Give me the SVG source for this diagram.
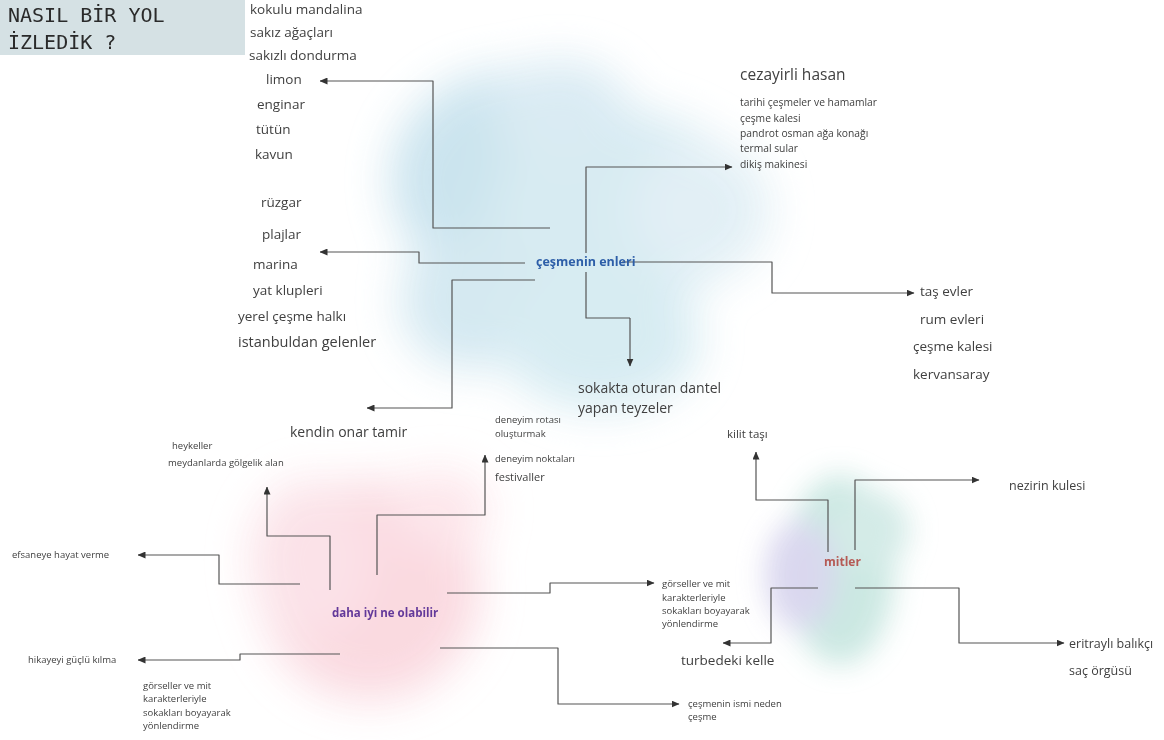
<svg xmlns="http://www.w3.org/2000/svg" width="1164" height="740" viewBox="0 0 1164 740">
<defs>
<filter id="blur" x="-50%" y="-50%" width="200%" height="200%"><feGaussianBlur stdDeviation="22"/></filter>
<filter id="blur2" x="-50%" y="-50%" width="200%" height="200%"><feGaussianBlur stdDeviation="14"/></filter>
<marker id="arr" markerUnits="userSpaceOnUse" markerWidth="8" markerHeight="7" refX="7.5" refY="3.5" orient="auto"><path d="M0,0 L8,3.5 L0,7 z" fill="#333"/></marker>
<style>
.t{font-family:"Open Sans","Noto Sans","Liberation Sans",sans-serif;fill:#404040}
.s{font-size:13.5px}
.n{font-size:12.5px}
.m{font-size:14px}
.x{font-size:9.5px}
.hub{font-family:"Open Sans","Noto Sans","Liberation Sans",sans-serif;font-weight:bold}
.c{fill:none;stroke:#555;stroke-width:1.2;stroke-linejoin:round}
.a{marker-end:url(#arr)}
</style>
</defs>
<rect width="1164" height="740" fill="#fff"/>
<g id="background" opacity="0.95">
<g filter="url(#blur)">
<ellipse cx="510" cy="180" rx="120" ry="110" fill="#c9e3ee"/>
<ellipse cx="620" cy="210" rx="130" ry="100" fill="#d5eaf2"/>
<ellipse cx="700" cy="210" rx="70" ry="70" fill="#e1eff5"/>
<ellipse cx="470" cy="300" rx="70" ry="70" fill="#d3e8f1"/>
<ellipse cx="600" cy="340" rx="100" ry="70" fill="#d5ebf2"/>
<ellipse cx="560" cy="110" rx="70" ry="50" fill="#d8eaf3"/>
</g>
<g filter="url(#blur)">
<ellipse cx="370" cy="590" rx="110" ry="110" fill="#fad8df"/>
<ellipse cx="310" cy="560" rx="60" ry="80" fill="#fbe1e7"/>
<ellipse cx="440" cy="510" rx="50" ry="40" fill="#fde5ea"/>
</g>
<g filter="url(#blur2)">
<ellipse cx="840" cy="570" rx="55" ry="95" fill="#c9e7e1"/>
<ellipse cx="800" cy="575" rx="35" ry="55" fill="#d8d5ee"/>
<ellipse cx="870" cy="530" rx="40" ry="40" fill="#d2eae6"/>
</g>
</g>
<g id="title">
<rect x="0" y="0" width="245" height="55" fill="#d5e1e4"/>
<text x="8" y="22" font-family="'DejaVu Sans Mono','Liberation Mono',monospace" font-size="20" fill="#2a2a2a">NASIL BİR YOL</text>
<text x="8" y="49" font-family="'DejaVu Sans Mono','Liberation Mono',monospace" font-size="20" fill="#2a2a2a">İZLEDİK ?</text>
</g>
<g id="connectors">
<path class="c a" d="M550,228 L433,228 L433,81 L320,81"/>
<path class="c a" d="M525,263 L419,263 L419,252 L320,252"/>
<path class="c a" d="M535,280 L452,280 L452,408 L367,408"/>
<path class="c a" d="M586,253 L586,167 L732,167"/>
<path class="c" d="M586,272 L586,318 L630,318"/>
<path class="c a" d="M630,318 L630,366"/>
<path class="c a" d="M622,262 L772,262 L772,293 L914,293"/>
<path class="c a" d="M377,575 L377,515 L485,515 L485,455"/>
<path class="c a" d="M330,590 L330,536 L267,536 L267,487"/>
<path class="c a" d="M300,584 L219,584 L219,555 L138,555"/>
<path class="c a" d="M447,593 L550,593 L550,583 L654,583"/>
<path class="c a" d="M440,648 L558,648 L558,704 L679,704"/>
<path class="c a" d="M340,654 L240,654 L240,660 L138,660"/>
<path class="c a" d="M828,552 L828,500 L756,500 L756,452"/>
<path class="c a" d="M855,550 L855,480 L979,480"/>
<path class="c a" d="M818,588 L771,588 L771,643 L723,643"/>
<path class="c a" d="M855,588 L959,588 L959,643 L1064,643"/>
</g>
<g id="hub-cesme"><text class="hub" x="536" y="266" font-size="12.5" fill="#2d5ea8">çeşmenin enleri</text></g>
<g id="hub-daha"><text class="hub" x="332" y="617" font-size="11.5" fill="#63399a">daha iyi ne olabilir</text></g>
<g id="hub-mitler"><text class="hub" x="824" y="566" font-size="12" fill="#b55a55">mitler</text></g>
<g id="list-tarim">
<text class="t s" x="250" y="14">kokulu mandalina</text>
<text class="t s" x="250" y="37">sakız ağaçları</text>
<text class="t s" x="249" y="60">sakızlı dondurma</text>
<text class="t s" x="266" y="84">limon</text>
<text class="t s" x="257" y="109">enginar</text>
<text class="t s" x="256" y="134">tütün</text>
<text class="t s" x="255" y="159">kavun</text>
</g>
<g id="list-deniz">
<text class="t s" x="261" y="207">rüzgar</text>
<text class="t s" x="262" y="239">plajlar</text>
<text class="t s" x="253" y="269">marina</text>
<text class="t s" x="253" y="295">yat klupleri</text>
<text class="t s" x="238" y="321">yerel çeşme halkı</text>
<text class="t" x="238" y="347" font-size="14.5">istanbuldan gelenler</text>
</g>
<g id="kendin"><text class="t m" x="290" y="437">kendin onar tamir</text></g>
<g id="cezayirli">
<text class="t" x="740" y="80" font-size="15.5">cezayirli hasan</text>
<text class="t" x="740" y="106" font-size="10.3">tarihi çeşmeler ve hamamlar</text>
<text class="t" x="740" y="122" font-size="10.3">çeşme kalesi</text>
<text class="t" x="740" y="137" font-size="10.3">pandrot osman ağa konağı</text>
<text class="t" x="740" y="152" font-size="10.3">termal sular</text>
<text class="t" x="740" y="168" font-size="10.3">dikiş makinesi</text>
</g>
<g id="tas-evler">
<text class="t s" x="920" y="296">taş evler</text>
<text class="t s" x="920" y="324">rum evleri</text>
<text class="t s" x="913" y="351">çeşme kalesi</text>
<text class="t s" x="913" y="379">kervansaray</text>
</g>
<g id="sokakta">
<text class="t m" x="578" y="393">sokakta oturan dantel</text>
<text class="t m" x="578" y="413">yapan teyzeler</text>
</g>
<g id="deneyim">
<text class="t x" x="495" y="423">deneyim rotası</text>
<text class="t x" x="495" y="437">oluşturmak</text>
<text class="t x" x="495" y="462">deneyim noktaları</text>
<text class="t" x="495" y="481" font-size="11">festivaller</text>
</g>
<g id="heykeller">
<text class="t x" x="172" y="449">heykeller</text>
<text class="t x" x="168" y="466">meydanlarda gölgelik alan</text>
</g>
<g id="efsane"><text class="t x" x="12" y="558">efsaneye hayat verme</text></g>
<g id="hikaye"><text class="t x" x="28" y="663">hikayeyi güçlü kılma</text></g>
<g id="gorseller-left">
<text class="t x" x="143" y="689">görseller ve mit</text>
<text class="t x" x="143" y="702">karakterleriyle</text>
<text class="t x" x="143" y="716">sokakları boyayarak</text>
<text class="t x" x="143" y="729">yönlendirme</text>
</g>
<g id="gorseller-right">
<text class="t x" x="662" y="587">görseller ve mit</text>
<text class="t x" x="662" y="601">karakterleriyle</text>
<text class="t x" x="662" y="614">sokakları boyayarak</text>
<text class="t x" x="662" y="627">yönlendirme</text>
</g>
<g id="cesme-ismi">
<text class="t x" x="688" y="707">çeşmenin ismi neden</text>
<text class="t x" x="688" y="720">çeşme</text>
</g>
<g id="kilit"><text class="t" x="727" y="438" font-size="11.5">kilit taşı</text></g>
<g id="nezirin"><text class="t n" x="1009" y="490">nezirin kulesi</text></g>
<g id="turbe"><text class="t" x="681" y="665" font-size="13.5">turbedeki kelle</text></g>
<g id="eritrayli">
<text class="t n" x="1069" y="648">eritraylı balıkçı</text>
<text class="t n" x="1069" y="675">saç örgüsü</text>
</g>
</svg>
